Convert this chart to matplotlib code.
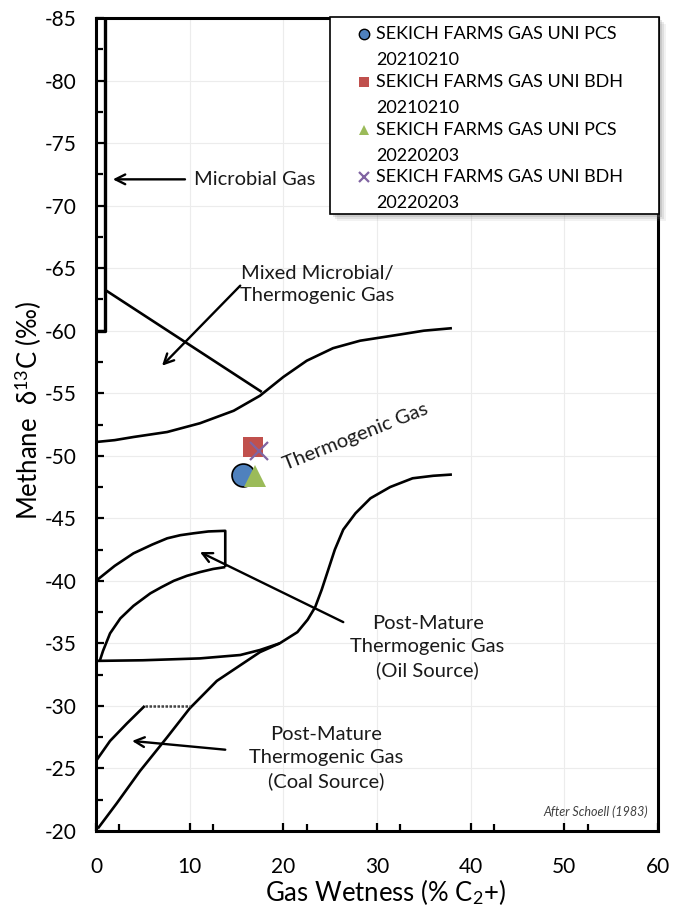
import matplotlib
matplotlib.use("Agg")
import matplotlib.pyplot as plt
import matplotlib.transforms as mtransforms
from matplotlib.patches import Rectangle

plt.rcParams['font.family'] = ['Lato', 'DejaVu Sans']
plt.rcParams['mathtext.fontset'] = 'custom'
plt.rcParams['mathtext.rm'] = 'Lato'
plt.rcParams['mathtext.it'] = 'Lato:italic'
plt.rcParams['axes.unicode_minus'] = False

# ---------------- data ----------------
sample_labels = ["SEKICH FARMS GAS UNI PCS\n20210210",
                 "SEKICH FARMS GAS UNI BDH\n20210210",
                 "SEKICH FARMS GAS UNI PCS\n20220203",
                 "SEKICH FARMS GAS UNI BDH\n20220203"]
sample_wetness = [15.7, 16.8, 17.0, 17.4]
sample_d13c = [-48.5, -50.7, -48.4, -50.4]

microbial_x = [0.0, 1.0, 1.0]
microbial_y = [-60.0, -60.0, -85.0]

mixed_x = [1.1, 17.7]
mixed_y = [-63.2, -55.1]

thermo_x = [0.0, 2.0, 4.0, 7.6, 11.1, 14.7, 17.5, 20.0, 22.5, 25.3, 28.2, 32.5, 35.0, 38.0]
thermo_y = [-51.1, -51.25, -51.5, -51.9, -52.6, -53.6, -54.8, -56.3, -57.6, -58.6, -59.2, -59.7, -60.0, -60.2]

coal_low_x = [0.2, 2.2, 4.7, 7.6, 10.0, 12.9, 15.7, 17.5, 19.6, 21.5, 22.6, 23.4, 24.1, 24.8,
              25.5, 26.4, 27.7, 29.3, 31.4, 33.8, 36.0, 38.0]
coal_low_y = [-20.2, -22.2, -24.8, -27.5, -29.8, -32.0, -33.4, -34.3, -35.0, -35.9, -36.9, -37.9, -39.3, -40.9,
              -42.5, -44.1, -45.4, -46.6, -47.5, -48.2, -48.4, -48.5]

oil_base_x = [0.0, 5.0, 11.1, 15.4, 17.5, 19.6]
oil_base_y = [-33.6, -33.65, -33.8, -34.07, -34.47, -35.0]

oil_upper_x = [0.0, 2.0, 4.0, 6.0, 7.6, 9.0, 10.4, 12.0, 13.8, 13.8]
oil_upper_y = [-40.0, -41.2, -42.2, -42.9, -43.4, -43.65, -43.8, -43.95, -44.0, -41.1]

oil_lower_x = [13.8, 12.5, 11.1, 9.7, 8.3, 7.0, 5.8, 4.0, 2.6, 1.5, 0.75, 0.4]
oil_lower_y = [-41.1, -40.95, -40.7, -40.4, -40.0, -39.5, -39.0, -38.0, -37.0, -35.8, -34.4, -33.6]

coal_up_x = [0.0, 1.5, 3.3, 5.2]
coal_up_y = [-25.6, -27.2, -28.6, -30.0]

coal_cap_x = [5.2, 10.0]
coal_cap_y = [-30.0, -30.0]

x_ticks = [0, 10, 20, 30, 40, 50, 60]
y_ticks = [-20, -25, -30, -35, -40, -45, -50, -55, -60, -65, -70, -75, -80, -85]

# ---------------- figure ----------------
fig = plt.figure(figsize=(6.74, 9.06), dpi=100)
ax = fig.add_axes([96/674, 1-831/906, 562/674, 813/906])

ax.set_xlim(0, 60)
ax.set_ylim(-20, -85)
ax.set_xticks(x_ticks)
ax.set_yticks(y_ticks)
ax.set_xticks([v + 2.5 for v in x_ticks[:-1]], minor=True)
ax.set_yticks([v - 2.5 for v in y_ticks[:-1]], minor=True)
ax.grid(True, which='major', color='#ECECEC', lw=0.8, zorder=0)
ax.set_axisbelow(True)

ax.tick_params(which='both', direction='in', top=False, right=False, width=1.6,
               labelsize=15, color='black')
ax.tick_params(which='major', length=6)
ax.tick_params(which='minor', length=5)
ax.tick_params(axis='y', which='major', pad=14)
ax.tick_params(axis='x', which='major', pad=19)
for s in ax.spines.values():
    s.set_linewidth(2.2)
    s.set_color('black')

lk = dict(color='black', lw=1.9, solid_capstyle='butt', solid_joinstyle='round', zorder=2)
ax.plot(microbial_x, microbial_y, lw=2.4, color='black', zorder=2)
ax.plot(mixed_x, mixed_y, **lk)
ax.plot(thermo_x, thermo_y, **lk)
ax.plot(coal_low_x, coal_low_y, **lk)
ax.plot(oil_base_x, oil_base_y, **lk)
ax.plot(oil_upper_x, oil_upper_y, **lk)
ax.plot(oil_lower_x, oil_lower_y, **lk)
ax.plot(coal_up_x, coal_up_y, **lk)
ax.plot(coal_cap_x, coal_cap_y, color='#444444', lw=1.8, linestyle=(0, (1, 0.6)), zorder=2)

# samples
styles = [dict(marker='o', color='#4F81BD', mec='black', mew=1.2, ms=16.5),
          dict(marker='s', color='#C0504D', mec='#C0504D', mew=0, ms=14),
          dict(marker='^', color='#9BBB59', mec='#9BBB59', mew=0, ms=16),
          dict(marker='x', color='#8064A2', mec='#8064A2', mew=1.6, ms=13)]
for i in range(4):
    ax.plot([sample_wetness[i]], [sample_d13c[i]], linestyle='none', zorder=4 + i, **styles[i])

# ---------------- legend (frame with soft shadow, entries) ----------------
def ax_x(px):
    return (px - 96) / 562


def ax_y(py):
    return (831 - py) / 813


fl, fr, ft, fb = ax_x(330), ax_x(659), ax_y(17), ax_y(214)
for k, a in [(7, 0.10), (5, 0.16), (3, 0.22)]:
    tr = mtransforms.offset_copy(ax.transAxes, fig=fig, x=k, y=-k, units='dots')
    ax.add_patch(Rectangle((fl, fb), fr - fl, ft - fb, transform=tr, facecolor='#808080',
                           edgecolor='none', alpha=a, clip_on=False, zorder=9))
ax.add_patch(Rectangle((fl, fb), fr - fl, ft - fb, transform=ax.transAxes, facecolor='white',
                       edgecolor='black', lw=1.2, clip_on=False, zorder=9.5))

entry_tops = [34, 82, 130, 177]
line_step = 26
for i in range(4):
    st = dict(styles[i])
    st['ms'] = 7.5 if st['marker'] != 'x' else 7
    if st['marker'] == 'o':
        st['mew'] = 1.0
    ax.plot([ax_x(364)], [ax_y(entry_tops[i])], transform=ax.transAxes, clip_on=False,
            linestyle='none', zorder=11, **st)
    for j, line in enumerate(sample_labels[i].split('\n')):
        ax.text(ax_x(376), ax_y(entry_tops[i] + j * line_step), line, transform=ax.transAxes,
                ha='left', va='center', fontsize=13, color='black', zorder=11)

# ---------------- annotations ----------------
tk = dict(fontsize=14.5, color='#1a1a1a')
ap = dict(arrowstyle='->,head_length=0.7,head_width=0.35', color='black', lw=1.7,
          shrinkA=0, shrinkB=0)
ax.annotate('', xy=(1.8, -72.1), xytext=(9.5, -72.1), arrowprops=ap)
ax.text(10.5, -72.1, 'Microbial Gas', ha='left', va='center', **tk)

ax.annotate('', xy=(7.05, -57.2), xytext=(15.4, -63.6), arrowprops=ap)
ax.text(23.6, -63.7, 'Mixed Microbial/\nThermogenic Gas', ha='center', va='center',
        linespacing=1.35, **tk)

ax.text(27.7, -51.5, 'Thermogenic Gas', ha='center', va='center', rotation=21.6,
        rotation_mode='anchor', **tk)

ax.annotate('', xy=(11.1, -42.3), xytext=(26.4, -36.7), arrowprops=ap)
ax.text(35.4, -34.7, 'Post-Mature\nThermogenic Gas\n(Oil Source)', ha='center', va='center',
        linespacing=1.42, **tk)

ax.annotate('', xy=(3.85, -27.2), xytext=(13.8, -26.5), arrowprops=ap)
ax.text(24.6, -25.8, 'Post-Mature\nThermogenic Gas\n(Coal Source)', ha='center', va='center',
        linespacing=1.42, **tk)

ax.text(58.9, -21.5, 'After Schoell (1983)', ha='right', va='center', fontsize=9,
        style='italic', color='#404040')

ax.set_xlabel('Gas Wetness (% C$_2$+)', fontsize=18.5)
ax.xaxis.set_label_coords(0.515, -0.057)
fig.text(28/674, 1-410/906, 'Methane  δ$^{13}$C (‰)', rotation=90, ha='center', va='center',
         fontsize=18.5)

fig.savefig('out.png', dpi=100)
